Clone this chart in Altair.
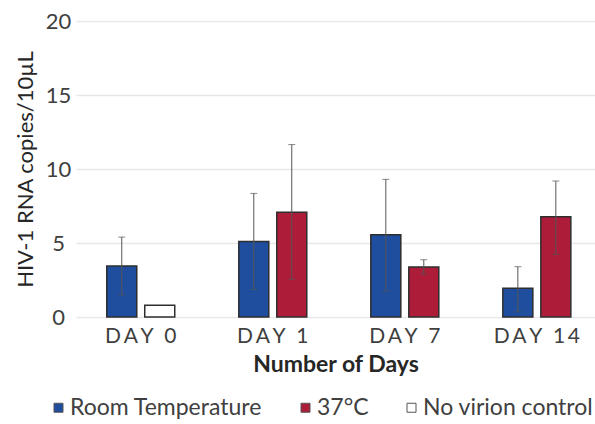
import altair as alt
import pandas as pd

# ---- data ----
days = ["DAY 0", "DAY 1", "DAY 7", "DAY 14"]
series_names = ["Room Temperature", "37°C", "No virion control"]
series_colors = ["#1f4e9e", "#ad1c39", "#ffffff"]

rt_mean = [3.45, 5.10, 5.55, 1.95]
rt_low = [1.50, 1.85, 1.75, 0.35]
rt_high = [5.40, 8.35, 9.30, 3.40]

c37_days = ["DAY 1", "DAY 7", "DAY 14"]
c37_mean = [7.07, 3.38, 6.78]
c37_low = [2.55, 2.90, 4.23]
c37_high = [11.65, 3.87, 9.19]

nv_days = ["DAY 0"]
nv_mean = [0.80]

y_ticks = [0, 5, 10, 15, 20]

# ---- table ----
rows = []
for d, m, lo, hi in zip(days, rt_mean, rt_low, rt_high):
    rows.append(dict(day=d, series="Room Temperature", slot=0, value=m, low=lo, high=hi))
for d, m, lo, hi in zip(c37_days, c37_mean, c37_low, c37_high):
    rows.append(dict(day=d, series="37°C", slot=1, value=m, low=lo, high=hi))
for d, m in zip(nv_days, nv_mean):
    rows.append(dict(day=d, series="No virion control", slot=1, value=m, low=None, high=None))
df = pd.DataFrame(rows)

FONT = "Lato"
spaced = {d: "\u2009".join(d) for d in days}
label_expr = " : ".join(f"datum.label == '{k}' ? '{v}'" for k, v in spaced.items()) + " : datum.label"
legend_expr = "datum.label == 'Room Temperature' ? datum.label + '\u00a0\u00a0\u00a0\u00a0\u00a0' : datum.label"

x_enc = alt.X(
    "day:N",
    sort=days,
    scale=alt.Scale(paddingInner=0.485, paddingOuter=0.208, align=0.56),
    axis=alt.Axis(
        title="Number of Days",
        labelExpr=label_expr,
        labelFont=FONT,
        labelFontSize=21,
        labelColor="#404040",
        labelPadding=8,
        labelAngle=0,
        domain=False,
        ticks=False,
        grid=False,
        titleFont=FONT,
        titleFontSize=23,
        titleFontWeight="bold",
        titleColor="#262626",
        titleBaseline="alphabetic",
        titleY=54,
    ),
)
xoff = alt.XOffset("slot:O", scale=alt.Scale(paddingInner=0.21, paddingOuter=0))
y_scale = alt.Scale(domain=[0, 20], nice=False)

bars = alt.Chart(df).mark_bar(stroke="#2e2e2e", strokeWidth=1.5).encode(
    x=x_enc,
    xOffset=xoff,
    y=alt.Y(
        "value:Q",
        scale=y_scale,
        axis=alt.Axis(
            values=y_ticks,
            title="HIV-1 RNA copies/10µL",
            labelFont=FONT,
            labelFontSize=22,
            labelColor="#404040",
            labelAlign="center",
            labelBaseline="middle",
            labelPadding=18,
            domain=False,
            ticks=False,
            grid=True,
            gridColor="#e8e8e8",
            gridWidth=1.5,
            titleFont=FONT,
            titleFontSize=22,
            titleFontWeight="normal",
            titleColor="#262626",
            titleAngle=-90,
            titleX=-51,
            titleY=148,
            titleAlign="center",
            titleBaseline="middle",
        ),
    ),
    color=alt.Color(
        "series:N",
        scale=alt.Scale(domain=series_names, range=series_colors),
        legend=alt.Legend(
            title=None,
            orient="none",
            legendX=-29,
            legendY=375,
            direction="horizontal",
            columns=3,
            columnPadding=31,
            padding=0,
            symbolType="square",
            symbolSize=81,
            symbolStrokeColor="#555555",
            symbolStrokeWidth=1,
            labelFont=FONT,
            labelFontSize=23,
            labelColor="#404040",
            labelOffset=0,
            labelLimit=400,
            labelExpr=legend_expr,
        ),
    ),
)

err_df = df.dropna(subset=["low"])
rules = alt.Chart(err_df).mark_rule(color="#555555", strokeWidth=1).encode(
    x=alt.X("day:N", sort=days),
    xOffset=xoff,
    y=alt.Y("low:Q", scale=y_scale),
    y2="high:Q",
)
caps_lo = alt.Chart(err_df).mark_tick(color="#555555", thickness=1, size=7).encode(
    x=alt.X("day:N", sort=days),
    xOffset=xoff,
    y=alt.Y("low:Q", scale=y_scale),
)
caps_hi = alt.Chart(err_df).mark_tick(color="#555555", thickness=1, size=7).encode(
    x=alt.X("day:N", sort=days),
    xOffset=xoff,
    y=alt.Y("high:Q", scale=y_scale),
)

chart = (
    alt.layer(bars, rules, caps_lo, caps_hi)
    .properties(
        width=519,
        height=296,
        autosize=alt.AutoSizeParams(type="none"),
        padding={"left": 76, "top": 21, "right": 0, "bottom": 107},
        background="white",
    )
    .configure_view(stroke=None)
)

chart.save("out.html", embed_options={"renderer": "svg", "actions": False})
